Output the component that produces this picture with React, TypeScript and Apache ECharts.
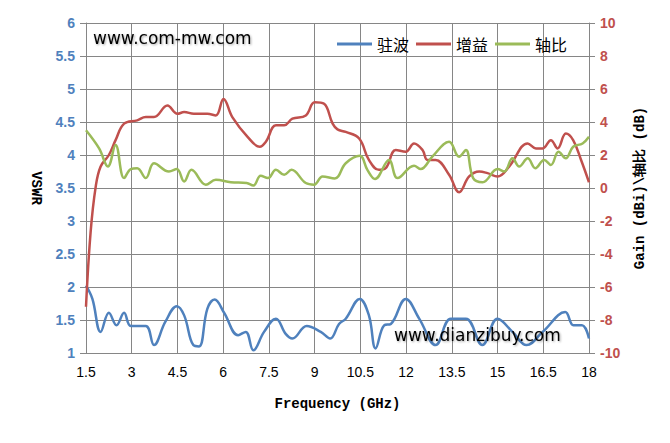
import { useEffect, useRef } from "react";
import * as echarts from "echarts";

// frequency (GHz) / value pairs
const vswrPoints = [
  [1.5, 2.02], [1.71, 1.82], [1.98, 1.32], [2.25, 1.61], [2.5, 1.42], [2.75, 1.61],
  [2.97, 1.41], [3.46, 1.41], [3.73, 1.12], [4.1, 1.47], [4.48, 1.71], [4.72, 1.57],
  [5.02, 1.12], [5.21, 1.1], [5.48, 1.67], [5.72, 1.81], [6.03, 1.61], [6.49, 1.27],
  [6.74, 1.32], [6.99, 1.04], [7.34, 1.32], [7.73, 1.52], [8.05, 1.29], [8.27, 1.22],
  [8.74, 1.41], [9.2, 1.32], [9.51, 1.22], [9.8, 1.44], [10.02, 1.52], [10.48, 1.82],
  [10.78, 1.57], [11.0, 1.07], [11.28, 1.42], [11.5, 1.44], [11.99, 1.82], [12.43, 1.52],
  [12.97, 1.12], [13.47, 1.52], [13.96, 1.52], [14.5, 1.12], [15.0, 1.52], [15.49, 1.32],
  [15.95, 1.12], [16.48, 1.32], [17.22, 1.62], [17.49, 1.42], [17.77, 1.42], [18.0, 1.22],
];

const gainPoints = [
  [1.5, -7.2], [1.65, -2.7], [1.82, 0.1], [1.98, 1.3], [2.25, 2.0], [2.47, 2.9],
  [2.75, 3.9], [3.18, 4.1], [3.46, 4.3], [3.73, 4.3], [4.17, 5.0], [4.5, 4.5],
  [4.72, 4.6], [5.04, 4.5], [5.48, 4.5], [5.76, 4.4], [6.01, 5.4], [6.3, 4.3],
  [6.8, 3.1], [7.2, 2.5], [7.4, 2.8], [7.73, 3.8], [8.0, 3.8], [8.27, 4.2],
  [8.71, 4.4], [9.0, 5.2], [9.31, 5.1], [9.59, 3.9], [9.75, 3.55], [10.02, 3.4],
  [10.46, 3.0], [10.78, 1.7], [11.11, 1.1], [11.33, 1.2], [11.66, 2.3], [11.99, 2.2],
  [12.26, 2.7], [12.54, 2.3], [12.7, 1.7], [12.97, 1.7], [13.41, 0.8], [13.74, -0.25],
  [14.07, 0.7], [14.4, 1.0], [14.67, 0.9], [15.0, 0.7], [15.38, 1.3], [15.99, 2.7],
  [16.26, 2.4], [16.48, 2.4], [16.75, 2.9], [16.97, 2.4], [17.24, 3.3], [17.48, 2.9],
  [17.74, 1.7], [18.0, 0.35],
];

const axialPoints = [
  [1.5, 3.5], [1.93, 2.4], [2.22, 1.3], [2.47, 2.6], [2.75, 0.6], [2.97, 1.15],
  [3.18, 1.2], [3.46, 0.6], [3.73, 1.5], [4.22, 1.0], [4.48, 1.15], [4.72, 0.4],
  [4.96, 1.1], [5.43, 0.2], [5.76, 0.5], [6.25, 0.35], [6.77, 0.3], [6.99, 0.15],
  [7.23, 0.75], [7.47, 0.6], [7.73, 1.1], [8.0, 0.8], [8.24, 1.1], [8.71, 0.3],
  [8.98, 0.2], [9.26, 0.7], [9.66, 0.58], [10.02, 1.5], [10.48, 1.95], [10.73, 1.1],
  [10.98, 0.55], [11.44, 1.7], [11.72, 0.6], [12.26, 1.35], [12.48, 1.15], [12.86, 1.9],
  [13.41, 2.8], [13.74, 1.9], [13.96, 2.3], [14.2, 0.6], [14.51, 0.35], [15.0, 1.15],
  [15.22, 1.0], [15.49, 1.8], [15.71, 1.3], [15.99, 1.8], [16.24, 1.2], [16.53, 1.7],
  [16.75, 1.4], [17.0, 2.2], [17.24, 1.8], [17.48, 2.5], [17.79, 2.7], [18.0, 3.1],
];

const seriesNames = ["驻波", "增益", "轴比"];
const seriesColors = ["#4F81BD", "#C0504D", "#9BBB59"];

const gridColor = "#868686";
const nameFont = "Liberation Mono";
const labelFont = "Liberation Sans";

export default function App() {
  const chartRef = useRef<HTMLDivElement>(null);

  useEffect(() => {
    if (!chartRef.current) return;
    const chart = echarts.init(chartRef.current, undefined, { renderer: "svg" });

    const option = {
      animation: false,
      backgroundColor: "#ffffff",
      grid: { left: 86, right: 81, top: 23, bottom: 90 },
      legend: {
        left: 332,
        top: 31,
        icon: "rect",
        itemWidth: 35,
        itemHeight: 3,
        itemGap: 7,
        textStyle: {
          fontSize: 16,
          color: "#000",
          fontFamily: "Noto Sans CJK SC",
        },
        data: seriesNames,
      },
      xAxis: {
        type: "value",
        min: 1.5,
        max: 18,
        interval: 1.5,
        name: "Frequency (GHz)",
        nameLocation: "middle",
        nameGap: 44,
        nameTextStyle: { fontFamily: nameFont, fontSize: 14, fontWeight: "bold", color: "#000" },
        axisLine: { lineStyle: { color: gridColor } },
        axisTick: { show: true, length: 5, lineStyle: { color: gridColor } },
        axisLabel: { color: "#000", fontSize: 14, fontFamily: labelFont, margin: 12 },
        splitLine: { show: true, lineStyle: { color: gridColor, width: 1 } },
      },
      yAxis: [
        {
          type: "value",
          min: 1,
          max: 6,
          interval: 0.5,
          position: "left",
          name: "VSWR",
          nameLocation: "middle",
          nameGap: 43,
          nameRotate: -90,
          nameTextStyle: { fontFamily: nameFont, fontSize: 14, fontWeight: "bold", color: "#000" },
          axisLine: { show: true, lineStyle: { color: gridColor } },
          axisTick: { show: true, length: 6, lineStyle: { color: gridColor } },
          axisLabel: {
            color: seriesColors[0],
            fontSize: 14,
            fontWeight: "bold",
            fontFamily: labelFont,
            margin: 11,
          },
          splitLine: { show: true, lineStyle: { color: gridColor, width: 1 } },
        },
        {
          type: "value",
          min: -10,
          max: 10,
          interval: 2,
          position: "right",
          name: "Gain (dBi)\\轴比 (dB)",
          nameLocation: "middle",
          nameGap: 44,
          nameRotate: 90,
          nameTextStyle: { fontFamily: nameFont, fontSize: 14, fontWeight: "bold", color: "#000" },
          axisLine: { show: true, lineStyle: { color: gridColor } },
          axisTick: { show: true, length: 6, lineStyle: { color: gridColor } },
          axisLabel: {
            color: seriesColors[1],
            fontSize: 14,
            fontWeight: "bold",
            fontFamily: labelFont,
            margin: 11,
          },
          splitLine: { show: false },
        },
      ],
      graphic: [
        {
          type: "text",
          x: 93,
          y: 38,
          z: 100,
          style: {
            text: "www.com-mw.com",
            font: '17px "DejaVu Sans", sans-serif',
            fill: "#000",
            verticalAlign: "middle",
            textShadowColor: "rgba(0,0,0,0.35)",
            textShadowBlur: 2,
            textShadowOffsetX: 1,
            textShadowOffsetY: 1,
          },
        },
        {
          type: "text",
          x: 394,
          y: 335,
          z: 100,
          style: {
            text: "www.dianzibuy.com",
            font: '17px "DejaVu Sans", sans-serif',
            fill: "#000",
            verticalAlign: "middle",
            textShadowColor: "rgba(0,0,0,0.35)",
            textShadowBlur: 2,
            textShadowOffsetX: 1,
            textShadowOffsetY: 1,
          },
        },
      ],
      series: [
        {
          name: seriesNames[0],
          type: "line",
          yAxisIndex: 0,
          data: vswrPoints,
          smooth: 0.4,
          showSymbol: false,
          lineStyle: { color: seriesColors[0], width: 2.5 },
          itemStyle: { color: seriesColors[0] },
        },
        {
          name: seriesNames[1],
          type: "line",
          yAxisIndex: 1,
          data: gainPoints,
          smooth: 0.4,
          showSymbol: false,
          lineStyle: { color: seriesColors[1], width: 2.5 },
          itemStyle: { color: seriesColors[1] },
        },
        {
          name: seriesNames[2],
          type: "line",
          yAxisIndex: 1,
          data: axialPoints,
          smooth: 0.4,
          showSymbol: false,
          lineStyle: { color: seriesColors[2], width: 2.5 },
          itemStyle: { color: seriesColors[2] },
        },
      ],
    };

    chart.setOption(option);

    return () => {
      chart.dispose();
    };
  }, []);

  return (
    <div
      ref={chartRef}
      style={{ position: "fixed", left: 0, top: 0, width: "670px", height: "443px", background: "#fff" }}
    ></div>
  );
}
